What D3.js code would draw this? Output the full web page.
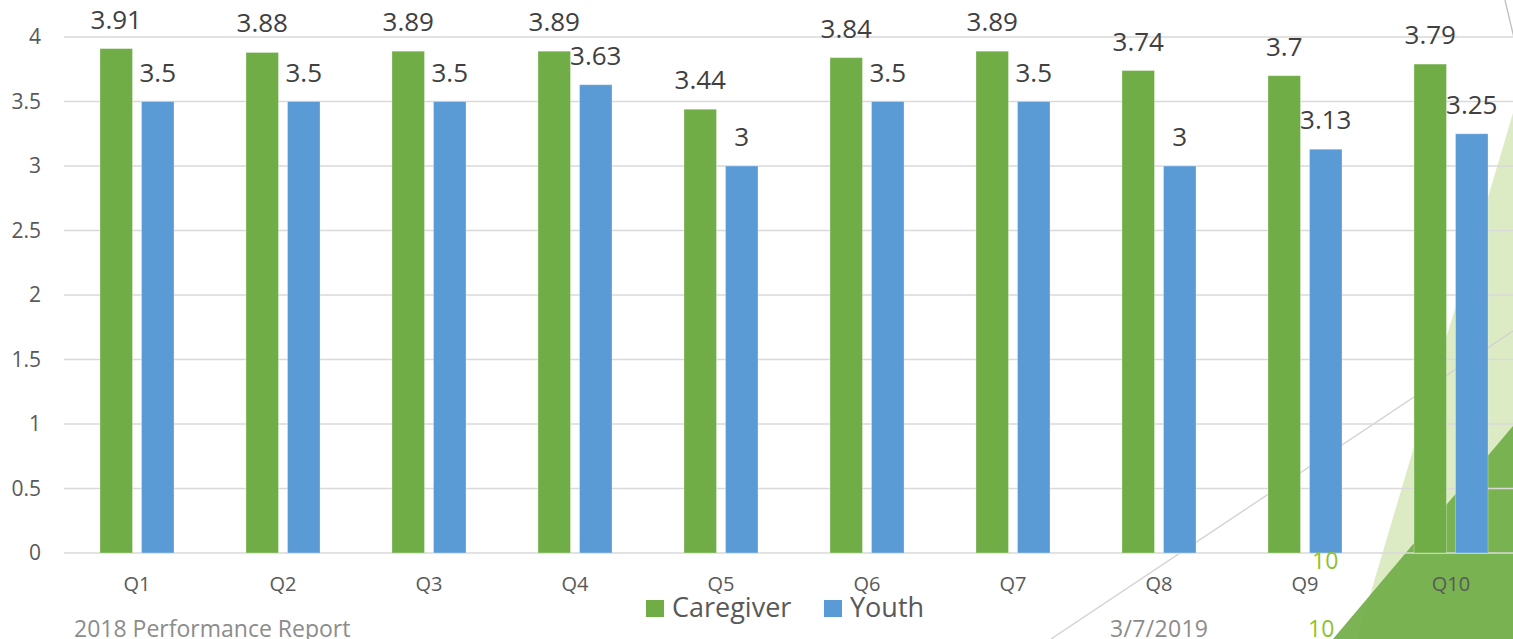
<!DOCTYPE html>
<html>
<head>
<meta charset="utf-8">
<script src="https://cdn.jsdelivr.net/npm/d3@7"></script>
<style>
  html, body { margin: 0; padding: 0; background: #fff; overflow: hidden; }
  svg { display: block; font-family: "Open Sans", sans-serif; }
</style>
</head>
<body>
<div id="chart"></div>
<script>
// data
const questions = ["Q1", "Q2", "Q3", "Q4", "Q5", "Q6", "Q7", "Q8", "Q9", "Q10"];
const seriesNames = ["Caregiver", "Youth"];
const caregiver = [3.91, 3.88, 3.89, 3.89, 3.44, 3.84, 3.89, 3.74, 3.7, 3.79];
const youth = [3.5, 3.5, 3.5, 3.63, 3, 3.5, 3.5, 3, 3.13, 3.25];
const yTicks = [0, 0.5, 1, 1.5, 2, 2.5, 3, 3.5, 4];

const width = 1513, height = 639;
const colors = { Caregiver: "#70AD47", Youth: "#5B9BD5" };

const rows = questions.map((q, i) => ({ q, Caregiver: caregiver[i], Youth: youth[i] }));

const svg = d3.select("#chart").append("svg")
  .attr("width", width)
  .attr("height", height);

// slide decoration behind the chart (theme shapes)
const deco = svg.append("g");
deco.append("polygon")
  .attr("points", "1357,639 1513,113 1513,639")
  .attr("fill", "#DDEBC5");
deco.append("polygon")
  .attr("points", "1333,639 1513,426 1513,639")
  .attr("fill", "#70AD47")
  .attr("fill-opacity", 0.92);
deco.append("line")
  .attr("x1", 1051).attr("y1", 639).attr("x2", 1513).attr("y2", 331)
  .attr("stroke", "#D0D0D0").attr("stroke-width", 1.3);
deco.append("line")
  .attr("x1", 1505).attr("y1", 0).attr("x2", 1514).attr("y2", 38)
  .attr("stroke", "#BDBDBD").attr("stroke-width", 1.3);

const plotLeft = 64, plotRight = 1524, plotTop = 37, plotBottom = 553;

const y = d3.scaleLinear().domain([0, 4]).range([plotBottom, plotTop]);
const x0 = d3.scaleBand().domain(questions).range([plotLeft, plotRight])
  .paddingInner(0.493).paddingOuter(0.2465);
const x1 = d3.scaleBand().domain(seriesNames).range([0, x0.bandwidth()])
  .paddingInner(0.217);

// gridlines
svg.append("g")
  .selectAll("line")
  .data(yTicks)
  .join("line")
  .attr("x1", plotLeft)
  .attr("x2", width)
  .attr("y1", (d) => y(d))
  .attr("y2", (d) => y(d))
  .attr("stroke", "#D9D9D9")
  .attr("stroke-width", 1.4);

// y axis labels
const yAxis = svg.append("g")
  .attr("transform", `translate(${plotLeft},0)`)
  .call(d3.axisLeft(y).tickValues(yTicks).tickSize(0).tickPadding(23).tickFormat(d3.format("~g")));
yAxis.select(".domain").remove();
yAxis.selectAll("text")
  .attr("fill", "#595959")
  .attr("font-size", 21)
  .attr("font-family", "Open Sans, sans-serif");

// x axis labels
const xAxis = svg.append("g")
  .attr("transform", `translate(0,${plotBottom})`)
  .call(d3.axisBottom(x0).tickSize(0).tickPadding(24));
xAxis.select(".domain").remove();
xAxis.selectAll("text")
  .attr("fill", "#595959")
  .attr("font-size", 20)
  .attr("font-family", "Open Sans, sans-serif");

// bars
const group = svg.append("g")
  .selectAll("g")
  .data(rows)
  .join("g")
  .attr("transform", (d) => `translate(${x0(d.q)},0)`);

const cells = group.selectAll("g")
  .data((d) => seriesNames.map((s) => ({ s, v: d[s] })))
  .join("g");

cells.append("rect")
  .attr("x", (d) => x1(d.s))
  .attr("y", (d) => y(d.v))
  .attr("width", x1.bandwidth())
  .attr("height", (d) => y(0) - y(d.v))
  .attr("fill", (d) => colors[d.s])
  .attr("stroke", "#fff")
  .attr("stroke-opacity", 0.3)
  .attr("stroke-width", 1);

cells.append("text")
  .attr("x", (d) => x1(d.s) + x1.bandwidth() / 2)
  .attr("y", (d) => y(d.v) - 20)
  .attr("text-anchor", "middle")
  .attr("fill", "#404040")
  .attr("font-size", 26)
  .text((d) => d.v);

// legend
const legend = svg.append("g").attr("transform", "translate(646,600)");
const legendX = [0, 178];
seriesNames.forEach((s, i) => {
  const item = legend.append("g").attr("transform", `translate(${legendX[i]},0)`);
  item.append("rect").attr("width", 18).attr("height", 17).attr("fill", colors[s]);
  item.append("text")
    .attr("x", 26)
    .attr("y", 17)
    .attr("fill", "#595959")
    .attr("font-size", 27)
    .text(s);
});

// slide footer
svg.append("text")
  .attr("x", 74).attr("y", 637)
  .attr("fill", "#8C8C8C").attr("font-size", 23)
  .text("2018 Performance Report");
svg.append("text")
  .attr("x", 1110).attr("y", 637)
  .attr("fill", "#8C8C8C").attr("font-size", 23)
  .attr("textLength", 98)
  .text("3/7/2019");
svg.append("text")
  .attr("x", 1308).attr("y", 637)
  .attr("fill", "#90C226").attr("font-size", 23)
  .text("10");
svg.append("text")
  .attr("x", 1312).attr("y", 569)
  .attr("fill", "#90C226").attr("font-size", 23)
  .text("10");
</script>
</body>
</html>
